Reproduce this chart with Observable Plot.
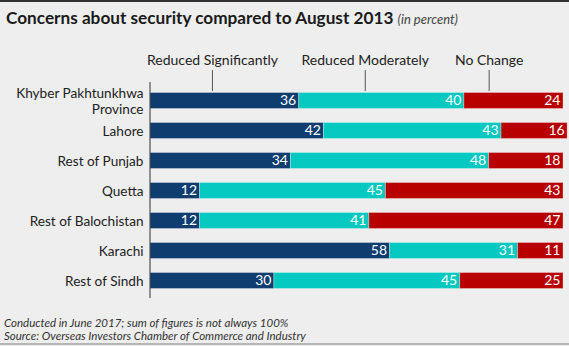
<!DOCTYPE html>
<html>
<head>
<meta charset="utf-8">
<script src="https://cdn.jsdelivr.net/npm/d3@7"></script>
<script src="https://cdn.jsdelivr.net/npm/@observablehq/plot@0.6"></script>
<style>
  html, body { margin: 0; padding: 0; background: #eeeeee; }
  #wrap { position: relative; width: 569px; height: 346px; background: #eeeeee; font-family: Lato, "Open Sans", sans-serif; overflow: hidden; }
  #topline { position: absolute; left: 0; top: 0; width: 569px; height: 2px; background: #333; }
  #title { position: absolute; left: 6px; top: 7px; font-size: 17.2px; font-weight: bold; color: #1a1a1a; white-space: nowrap; }
  #title span { font-weight: normal; font-style: italic; font-size: 13px; color: #444; }
  #chart { position: absolute; left: 0; top: 40px; }
  #foot { position: absolute; left: 4px; top: 317px; font-size: 11.5px; font-style: italic; color: #333; line-height: 12.5px; }
  #bottomline { position: absolute; left: 0; top: 343px; width: 569px; height: 2px; background: #b5b5b5; }
</style>
</head>
<body>
<div id="wrap">
  <div id="topline"></div>
  <div id="title">Concerns about security compared to August 2013 <span>(in percent)</span></div>
  <div id="chart"></div>
  <div id="foot">Conducted in June 2017; sum of figures is not always 100%<br>Source: Overseas Investors Chamber of Commerce and Industry</div>
  <div id="bottomline"></div>
</div>
<script>
const regions = ["Khyber Pakhtunkhwa\nProvince", "Lahore", "Rest of Punjab", "Quetta", "Rest of Balochistan", "Karachi", "Rest of Sindh"];
const reducedSignificantly = [36, 42, 34, 12, 12, 58, 30];
const reducedModerately = [40, 43, 48, 45, 41, 31, 45];
const noChange = [24, 16, 18, 43, 47, 11, 25];
const seriesNames = ["Reduced Significantly", "Reduced Moderately", "No Change"];
const seriesColors = ["#0f3d6f", "#05c9c0", "#b80000"];
const legendX = [15, 52, 82];

const data = [];
regions.forEach((r, i) => {
  [reducedSignificantly, reducedModerately, noChange].forEach((arr, k) => {
    data.push({region: r, series: seriesNames[k], value: arr[i], order: k});
  });
});
const legend = seriesNames.map((s, k) => ({series: s, x: legendX[k]}));

const stackOpts = {x: "value", y: "region", z: "series", order: seriesNames};

const chart = Plot.plot({
  width: 569,
  height: 265,
  marginLeft: 150,
  marginRight: 6,
  marginTop: 43,
  marginBottom: 8,
  style: {background: "transparent", fontFamily: "Lato, 'Open Sans', sans-serif"},
  x: {domain: [0, 100], axis: null},
  y: {domain: regions, axis: null, paddingInner: 0.44, paddingOuter: 0.22},
  color: {domain: seriesNames, range: seriesColors},
  marks: [
    Plot.ruleX(legend, {x: "x", stroke: "#555", strokeWidth: 1, insetTop: -13, insetBottom: 206}),
    Plot.text(legend, {x: "x", frameAnchor: "top", dy: -28, text: "series", fill: "#222", fontSize: 14, textAnchor: "middle", lineAnchor: "top"}),
    Plot.barX(data, Plot.stackX({...stackOpts, fill: "series", stroke: "white", strokeOpacity: 0.3, strokeWidth: 1, insetTop: 0.5, insetBottom: 0.5})),
    Plot.text(data, Plot.stackX2({...stackOpts, text: d => String(d.value), fill: "white", fontSize: 14, textAnchor: "end", dx: -3})),
    Plot.ruleX([0], {stroke: "#333", strokeWidth: 1, dx: -0.5, insetTop: -1, insetBottom: -1}),
    Plot.text(regions, {y: d => d, x: 0, text: d => d, dx: -7, textAnchor: "end", fill: "#222", fontSize: 13.6, lineHeight: 1.12})
  ]
});
document.getElementById("chart").appendChild(chart);
</script>
</body>
</html>
